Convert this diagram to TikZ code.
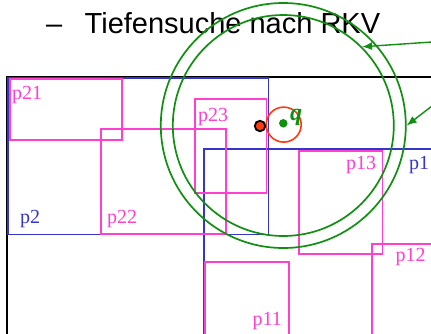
\documentclass[tikz,border=0pt]{standalone}
\usepackage{fontspec}
\setmainfont{Liberation Serif}
\newfontfamily\titlefont{Liberation Sans}
\usetikzlibrary{arrows.meta}
\definecolor{pmag}{HTML}{FF3FCF}
\definecolor{pblue}{HTML}{3535CC}
\definecolor{pgreen}{HTML}{108F10}
\definecolor{pred}{HTML}{FF3A10}
\tikzset{
  region/.style={draw=pblue, line width=1.8pt},
  page/.style={draw=pmag, line width=1.8pt},
  plabel/.style={text=pmag, font=\fontsize{20}{20}\selectfont, inner sep=0pt, anchor=base west},
  blabel/.style={text=pblue, font=\fontsize{20}{20}\selectfont, inner sep=0pt, anchor=base west},
  ring/.style={circle, draw=pgreen, line width=1.7pt, inner sep=0pt},
  pointer/.style={draw=pgreen, line width=1.4pt, -{Latex[length=10pt,width=8pt]}}
}
\begin{document}
\begin{tikzpicture}[x=1pt,y=-1pt]
\useasboundingbox (0,0) rectangle (431,333);
\clip (0,0) rectangle (431,333);
% title
\node[font=\titlefont\fontsize{29}{29}\selectfont, inner sep=0pt, anchor=base west] (dash) at (46,33) {–};
\node[font=\titlefont\fontsize{29}{29}\selectfont, inner sep=0pt, anchor=base west] (title) at (84.5,33) {Tiefensuche nach RKV};
% outer space
\draw[line width=2pt] (6.8,76.8) rectangle (445,345);
% directory regions
\draw[region] (8.3,78.3) rectangle (268.5,234.5);
\draw[region] (204,149) rectangle (445,345);
% pages
\draw[page] (10,79) rectangle (122,140);
\draw[page] (101,129) rectangle (226,234);
\draw[page] (195,99) rectangle (266.5,193);
\draw[page] (299,151) rectangle (382.5,254);
\draw[page] (372,244) rectangle (445,345);
\draw[page] (205,262) rectangle (289,345);
% labels
\node[plabel] (l21) at (12,99) {p21};
\node[blabel] (l2) at (20,223) {p2};
\node[plabel] (l22) at (107,223) {p22};
\node[plabel] (l23) at (198,121.5) {p23};
\node[plabel] (l13) at (346,169) {p13};
\node[blabel] (l1) at (409,169) {p1};
\node[plabel] (l12) at (395.5,261.5) {p12};
\node[plabel] (l11) at (252.5,325) {p11};
% query circles
\coordinate (c) at (283.3,125.5);
\node[ring, minimum size=221pt] (inner) at (c) {};
\node[ring, minimum size=245pt] (outer) at (c) {};
\node[circle, draw=pred, line width=1.6pt, inner sep=0pt, minimum size=35pt] (nn) at (283.7,124.6) {};
\node[circle, fill=pgreen, inner sep=0pt, minimum size=8.5pt] (q) at (283.3,123.3) {};
\node[circle, fill=pred, draw=black, line width=1.8pt, inner sep=0pt, minimum size=10.5pt] (hit) at (260,126) {};
\node[text=pgreen, font=\fontsize{24}{24}\selectfont\bfseries\itshape, inner sep=0pt, anchor=base west] (ql) at (290,120) {q};
% pointers
\coordinate (s1) at (432,42);
\coordinate (s2) at (432,106);
\draw[pointer] (s1) -- (inner.45);
\draw[pointer] (s2) -- (outer.0);
\end{tikzpicture}
\end{document}
